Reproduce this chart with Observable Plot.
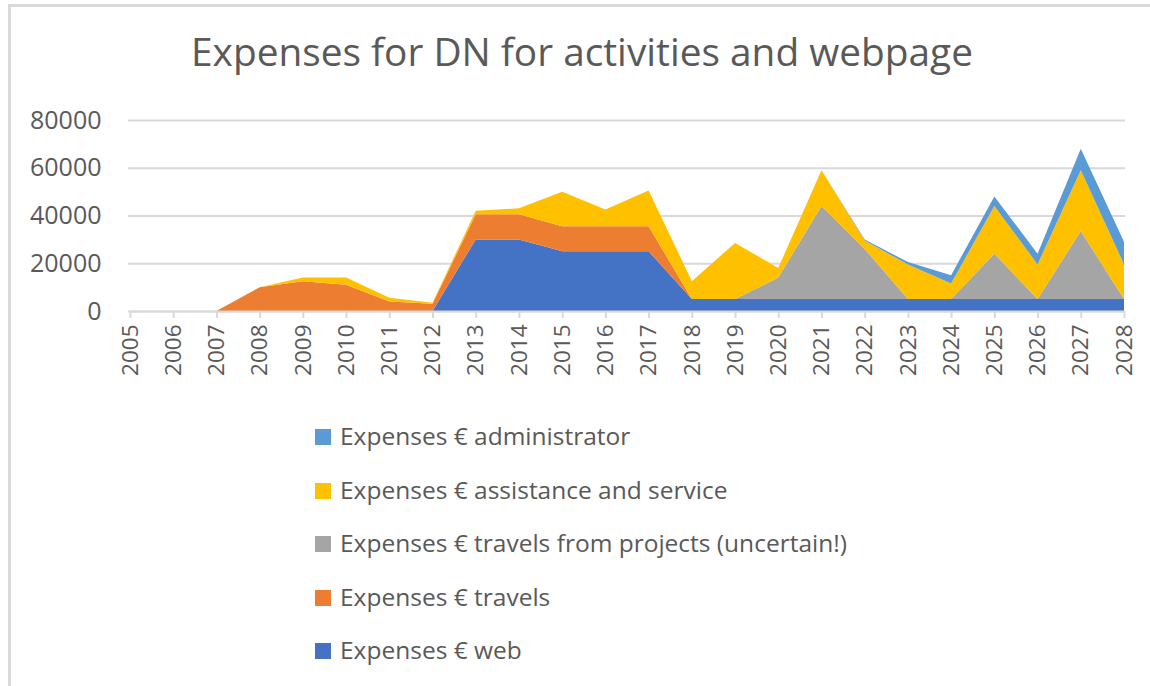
<!DOCTYPE html>
<html>
<head>
<meta charset="utf-8">
<script src="https://cdn.jsdelivr.net/npm/d3@7"></script>
<script src="https://cdn.jsdelivr.net/npm/@observablehq/plot@0.6"></script>
<style>
  html, body { margin: 0; padding: 0; background: #fff; }
  #frame { position: absolute; left: 8px; top: 4px; width: 1160px; height: 700px; border: 3px solid #d9d9d9; box-sizing: border-box; }
  #wrap { position: relative; width: 1150px; height: 686px; overflow: hidden; font-family: "Open Sans", Lato, sans-serif; color: #595959; }
  #title { position: absolute; top: 25px; left: 0; width: 1164px; text-align: center; font-size: 38.8px; white-space: nowrap; }
  #chart { position: absolute; left: 0; top: 0; }
  #legend { position: absolute; left: 315px; top: 419px; }
  .item { height: 53.5px; display: flex; align-items: flex-start; font-size: 24.5px; white-space: nowrap; }
  .sw { width: 16px; height: 16px; margin-right: 9px; margin-top: 10px; flex: none; }
</style>
</head>
<body>
<div id="wrap">
  <div id="frame"></div>
  <div id="title">Expenses for DN for activities and webpage</div>
  <div id="chart"></div>
  <div id="legend"></div>
</div>
<script>
const years = [2005,2006,2007,2008,2009,2010,2011,2012,2013,2014,2015,2016,2017,2018,2019,2020,2021,2022,2023,2024,2025,2026,2027,2028];
const seriesNames = [
  "Expenses € web",
  "Expenses € travels",
  "Expenses € travels from projects (uncertain!)",
  "Expenses € assistance and service",
  "Expenses € administrator"
];
const seriesColors = ["#4472C4", "#ED7D31", "#A5A5A5", "#FFC000", "#5B9BD5"];
const web        = [0,0,0,0,0,0,0,0,30000,30000,25000,25000,25000,5000,5000,5000,5000,5000,5000,5000,5000,5000,5000,5000];
const travels    = [0,0,0,10000,12500,11000,4000,3000,10500,10500,10500,10500,10500,0,0,0,0,0,0,0,0,0,0,0];
const projects   = [0,0,0,0,0,0,0,0,0,0,0,0,0,0,0,9000,39000,21000,0,0,19000,0,28500,0];
const assistance = [0,0,0,0,1500,3000,1500,500,1500,2500,14500,7000,15000,7500,23500,4000,15000,3500,14500,6500,20000,14500,25500,14500];
const admin      = [0,0,0,0,0,0,0,0,0,0,0,0,0,0,0,0,0,500,1000,3500,4000,4500,9000,9500];
const yTicks = [0,20000,40000,60000,80000];

const seriesValues = [web, travels, projects, assistance, admin];
const rows = [];
seriesNames.forEach((name, i) => {
  years.forEach((yr, j) => rows.push({year: yr, series: name, value: seriesValues[i][j]}));
});

const plot = Plot.plot({
  width: 1150,
  height: 400,
  marginTop: 120,
  marginBottom: 89,
  marginLeft: 130,
  marginRight: 26,
  style: {fontFamily: "'Open Sans', Lato, sans-serif", color: "#595959", background: "transparent"},
  x: {domain: [2005, 2028]},
  y: {domain: [0, 80000]},
  color: {domain: seriesNames, range: seriesColors},
  marks: [
    Plot.gridY(yTicks, {stroke: "#d9d9d9", strokeOpacity: 1, strokeWidth: 2, x1: 2005, x2: 2028, insetLeft: -2, insetRight: -1}),
    Plot.areaY(rows, Plot.stackY({x: "year", y: "value", z: "series", fill: "series", order: seriesNames})),
    Plot.ruleY([0], {stroke: "#d9d9d9", strokeWidth: 2}),
    Plot.axisY(yTicks, {tickSize: 0, tickPadding: 29, fontSize: 25, fill: "#595959", label: null, tickFormat: d => String(d)}),
    Plot.axisX(years, {tickSize: 7, tickPadding: 6, tickRotate: -90, fontSize: 22.5, fill: "#595959", stroke: "#d9d9d9", strokeWidth: 2, label: null, tickFormat: d => String(d)})
  ]
});
document.getElementById("chart").appendChild(plot);

const legend = document.getElementById("legend");
for (let i = seriesNames.length - 1; i >= 0; i--) {
  const item = document.createElement("div");
  item.className = "item";
  const sw = document.createElement("div");
  sw.className = "sw";
  sw.style.background = seriesColors[i];
  const t = document.createElement("span");
  t.textContent = seriesNames[i];
  item.appendChild(sw);
  item.appendChild(t);
  legend.appendChild(item);
}
</script>
</body>
</html>
